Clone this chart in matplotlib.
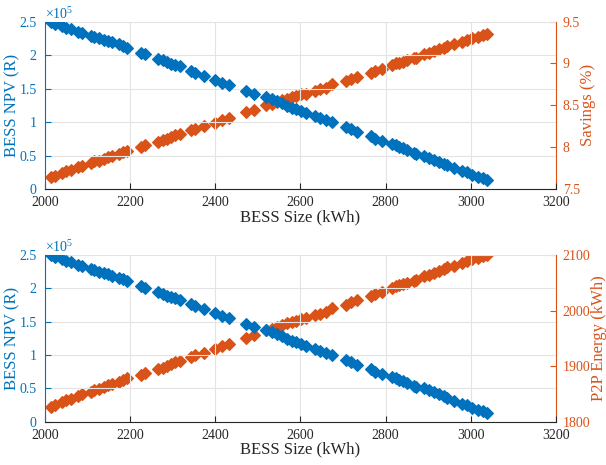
import matplotlib
matplotlib.use('Agg')
import matplotlib.pyplot as plt
import numpy as np

plt.rcParams['font.family'] = ['Liberation Serif', 'DejaVu Serif']
plt.rcParams['mathtext.fontset'] = 'custom'
plt.rcParams['mathtext.rm'] = 'Liberation Serif'
plt.rcParams['mathtext.it'] = 'Liberation Serif:italic'

# BESS size (kWh)
bess_size = [2013, 2023, 2040, 2050, 2060, 2078, 2088, 2107, 2116, 2126,
             2138, 2148, 2157, 2173, 2182, 2192, 2226, 2236, 2266, 2276,
             2286, 2296, 2306, 2316, 2342, 2353, 2374, 2400, 2416, 2433,
             2473, 2490, 2520, 2532, 2545, 2557, 2569, 2580, 2590, 2602,
             2612, 2635, 2647, 2659, 2675, 2706, 2718, 2733, 2765, 2776,
             2792, 2816, 2824, 2832, 2840, 2851, 2866, 2872, 2890, 2902,
             2914, 2926, 2937, 2945, 2961, 2980, 2992, 3004, 3016, 3028,
             3039]

# BESS NPV (x 1e5 R)
npv = [2.50, 2.47, 2.44, 2.41, 2.39, 2.35, 2.33, 2.29, 2.27, 2.25,
       2.23, 2.21, 2.19, 2.16, 2.14, 2.11, 2.03, 2.01, 1.94, 1.92,
       1.89, 1.87, 1.85, 1.83, 1.77, 1.74, 1.69, 1.63, 1.59, 1.55,
       1.46, 1.42, 1.37, 1.34, 1.31, 1.28, 1.24, 1.21, 1.19, 1.17,
       1.14, 1.09, 1.06, 1.03, 1.00, 0.92, 0.89, 0.85, 0.79, 0.75,
       0.72, 0.67, 0.65, 0.63, 0.61, 0.58, 0.54, 0.52, 0.50, 0.47,
       0.44, 0.41, 0.38, 0.36, 0.31, 0.27, 0.25, 0.21, 0.18, 0.16,
       0.13]

# Savings (%)
savings = [7.64, 7.66, 7.69, 7.71, 7.73, 7.76, 7.78, 7.81, 7.83, 7.84,
           7.86, 7.88, 7.90, 7.92, 7.94, 7.96, 8.00, 8.02, 8.06, 8.08,
           8.10, 8.12, 8.14, 8.16, 8.20, 8.22, 8.25, 8.29, 8.32, 8.35,
           8.42, 8.45, 8.50, 8.52, 8.54, 8.56, 8.58, 8.60, 8.61, 8.63,
           8.64, 8.67, 8.69, 8.71, 8.75, 8.79, 8.82, 8.84, 8.89, 8.91,
           8.93, 8.98, 9.00, 9.01, 9.02, 9.04, 9.06, 9.07, 9.11, 9.13,
           9.15, 9.17, 9.19, 9.21, 9.23, 9.26, 9.28, 9.30, 9.32, 9.34,
           9.35]

# P2P energy (kWh)
p2p = [1827.0, 1830.2, 1835.0, 1838.2, 1841.4, 1846.2, 1849.4, 1854.2, 1857.4, 1859.0,
       1862.2, 1865.3, 1868.5, 1871.7, 1874.9, 1878.1, 1884.5, 1887.7, 1894.1, 1897.3,
       1900.5, 1903.7, 1906.8, 1910.0, 1916.4, 1919.6, 1924.4, 1930.8, 1935.6, 1940.4,
       1951.5, 1956.3, 1964.3, 1967.5, 1970.7, 1973.9, 1977.1, 1980.3, 1981.9, 1985.0,
       1986.6, 1991.4, 1994.6, 1997.8, 2004.2, 2010.6, 2015.4, 2018.5, 2026.5, 2029.7,
       2032.9, 2040.9, 2044.1, 2045.7, 2047.3, 2050.5, 2053.6, 2055.2, 2061.6, 2064.8,
       2068.0, 2071.2, 2074.4, 2077.6, 2080.8, 2085.6, 2088.8, 2092.0, 2095.2, 2098.3,
       2100.0]

blue = '#0072BD'
orange = '#D95319'
dark = '#262626'

fig = plt.figure(figsize=(6.06, 4.65), dpi=100)

panels = [
    ([0.0743, 0.5935, 0.843, 0.360], savings, 'Savings (%)', (7.5, 9.5), [7.5, 8, 8.5, 9, 9.5]),
    ([0.0743, 0.0931, 0.843, 0.3585], p2p, 'P2P Energy (kWh)', (1800, 2100), [1800, 1900, 2000, 2100]),
]

for rect, rdata, rlabel, rlim, rticks in panels:
    ax = fig.add_axes(rect)
    ax2 = ax.twinx()
    ax.set_zorder(ax2.get_zorder() + 1)
    ax.patch.set_visible(False)

    ax2.plot(bess_size, rdata, 'D', color=orange, ms=6.2, mec=orange, mew=0.8)
    ax.plot(bess_size, npv, 'D', color=blue, ms=6.2, mec=blue, mew=0.8)

    ax.set_xlim(2000, 3200)
    ax.set_xticks(np.arange(2000, 3201, 200))
    ax.set_ylim(0, 2.5)
    ax.set_yticks([0, 0.5, 1, 1.5, 2, 2.5])
    ax.set_yticklabels(['0', '0.5', '1', '1.5', '2', '2.5'])
    ax2.set_ylim(*rlim)
    ax2.set_yticks(rticks)
    ax2.set_yticklabels(['%g' % t for t in rticks])

    ax.grid(True, color='#e3e3e3', lw=0.8)
    ax.set_axisbelow(True)

    for a in (ax, ax2):
        a.spines['top'].set_visible(False)
    ax.spines['right'].set_visible(False)
    ax2.spines['left'].set_visible(False)
    ax2.spines['bottom'].set_visible(False)
    ax.spines['left'].set_color(blue)
    ax.spines['bottom'].set_color(dark)
    ax2.spines['right'].set_color(orange)

    ax.tick_params(axis='x', direction='in', colors=dark, labelsize=10, length=4, pad=5)
    ax.tick_params(axis='y', direction='in', colors=blue, labelsize=10, length=4, pad=6)
    ax2.tick_params(axis='y', direction='in', colors=orange, labelsize=10, length=4, pad=5)

    ax.set_xlabel('BESS Size (kWh)', fontsize=12, color=dark, labelpad=0)
    ax.set_ylabel('BESS NPV (R)', fontsize=12, color=blue, labelpad=-1)
    ax2.set_ylabel(rlabel, fontsize=12, color=orange, labelpad=0)
    ax.text(0.0, 1.0, r'$\times10^{5}$', transform=ax.transAxes, color=blue,
            fontsize=10, ha='left', va='bottom')

fig.savefig('out.png', dpi=100)
